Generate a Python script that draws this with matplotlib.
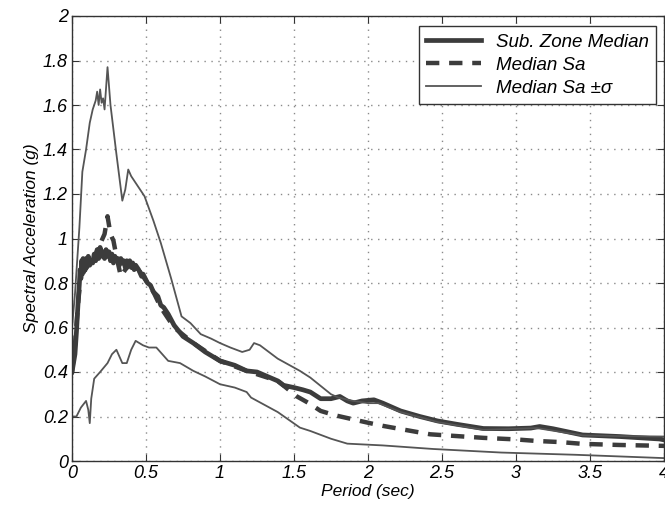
import matplotlib.pyplot as plt
import numpy as np

# period (s) / spectral acceleration (g)
t_sub = [0.0, 0.02, 0.03, 0.04, 0.05, 0.055, 0.06, 0.065, 0.07, 0.075, 0.08, 0.085, 0.09, 0.095,
         0.10, 0.11, 0.12, 0.13, 0.14, 0.15, 0.16, 0.17, 0.18, 0.19, 0.20, 0.21, 0.22, 0.23, 0.24,
         0.25, 0.26, 0.27, 0.28, 0.29, 0.30, 0.31, 0.32, 0.33, 0.34, 0.35, 0.36, 0.37, 0.38, 0.39,
         0.40, 0.41, 0.42, 0.43, 0.45, 0.47, 0.48, 0.51, 0.53, 0.55, 0.58, 0.60, 0.62, 0.65,
         0.69, 0.75, 0.82, 0.90, 1.0, 1.1, 1.18, 1.25, 1.32, 1.39, 1.43, 1.50, 1.56, 1.61, 1.68,
         1.75, 1.81, 1.86, 1.90, 1.96, 2.04, 2.10, 2.22, 2.35, 2.47, 2.60, 2.78, 2.95, 3.10, 3.16,
         3.25, 3.45, 3.70, 3.97, 4.0]
sa_sub = [0.40, 0.48, 0.58, 0.70, 0.80, 0.86, 0.82, 0.90, 0.84, 0.91, 0.85, 0.90, 0.86, 0.91,
          0.87, 0.92, 0.88, 0.90, 0.89, 0.93, 0.90, 0.95, 0.91, 0.96, 0.92, 0.94, 0.91, 0.95, 0.92,
          0.94, 0.90, 0.93, 0.89, 0.92, 0.90, 0.91, 0.88, 0.91, 0.89, 0.90, 0.87, 0.90, 0.88, 0.90,
          0.87, 0.89, 0.86, 0.88, 0.86, 0.83, 0.84, 0.80, 0.79, 0.76, 0.74, 0.70, 0.69, 0.66,
          0.61, 0.56, 0.53, 0.49, 0.45, 0.43, 0.405, 0.40, 0.38, 0.36, 0.34, 0.33, 0.32, 0.31, 0.28,
          0.28, 0.29, 0.27, 0.26, 0.27, 0.275, 0.26, 0.225, 0.20, 0.18, 0.165, 0.146, 0.145, 0.148, 0.155,
          0.145, 0.117, 0.11, 0.099, 0.095]

t_med = [0.0, 0.02, 0.04, 0.06, 0.08, 0.10, 0.14, 0.18, 0.20, 0.22, 0.24, 0.26, 0.28, 0.30, 0.33,
         0.36, 0.40, 0.42, 0.45, 0.50, 0.55, 0.60, 0.69, 0.82, 1.0, 1.18, 1.39, 1.52, 1.60, 1.68,
         1.78, 1.88, 2.0, 2.1, 2.25, 2.42, 2.6, 2.78, 3.0, 3.14, 3.3, 3.45, 3.7, 4.0]
sa_med = [0.40, 0.52, 0.70, 0.84, 0.87, 0.88, 0.90, 0.96, 0.99, 1.02, 1.10, 1.02, 0.99, 0.92, 0.83,
          0.86, 0.89, 0.88, 0.86, 0.81, 0.76, 0.69, 0.60, 0.53, 0.45, 0.405, 0.36, 0.29, 0.26, 0.225,
          0.205, 0.19, 0.172, 0.158, 0.14, 0.12, 0.112, 0.104, 0.097, 0.09, 0.085, 0.077, 0.072, 0.068]

t_up = [0.0, 0.02, 0.05, 0.07, 0.095, 0.12, 0.14, 0.16, 0.17, 0.18, 0.19, 0.20, 0.21, 0.22, 0.24,
        0.26, 0.30, 0.34, 0.36, 0.38, 0.40, 0.44, 0.49, 0.55, 0.60, 0.67, 0.74, 0.80, 0.87, 0.94,
        1.0, 1.07, 1.15, 1.20, 1.23, 1.27, 1.33, 1.39, 1.54, 1.61, 1.75, 1.80, 1.90, 2.0, 2.07,
        2.22, 2.47, 2.78, 3.14, 3.45, 3.7, 4.0]
sa_up = [0.60, 0.75, 1.05, 1.30, 1.40, 1.52, 1.58, 1.62, 1.66, 1.60, 1.67, 1.61, 1.63, 1.58, 1.77,
         1.60, 1.38, 1.17, 1.22, 1.31, 1.28, 1.24, 1.19, 1.08, 0.98, 0.82, 0.65, 0.62, 0.57, 0.55,
         0.53, 0.51, 0.49, 0.50, 0.53, 0.52, 0.49, 0.46, 0.405, 0.375, 0.30, 0.285, 0.27, 0.26, 0.26,
         0.22, 0.175, 0.14, 0.148, 0.115, 0.112, 0.11]

t_lo = [0.0, 0.03, 0.06, 0.095, 0.11, 0.12, 0.13, 0.15, 0.19, 0.24, 0.27, 0.30, 0.34, 0.37, 0.40,
        0.43, 0.48, 0.52, 0.57, 0.65, 0.73, 0.82, 0.90, 1.0, 1.1, 1.18, 1.21, 1.39, 1.54, 1.61,
        1.75, 1.86, 2.1, 2.44, 2.9, 3.4, 4.0]
sa_lo = [0.20, 0.20, 0.24, 0.27, 0.23, 0.17, 0.28, 0.37, 0.40, 0.44, 0.48, 0.50, 0.44, 0.44, 0.50,
         0.54, 0.52, 0.51, 0.51, 0.45, 0.44, 0.405, 0.38, 0.345, 0.33, 0.31, 0.285, 0.22, 0.15, 0.135,
         0.10, 0.078, 0.07, 0.054, 0.038, 0.028, 0.013]

plt.rcParams['font.family'] = ['Liberation Sans', 'DejaVu Sans']
plt.rcParams['font.style'] = 'italic'

fig = plt.figure(figsize=(6.65, 5.12), dpi=100)
ax = fig.add_axes([72/665, 51/512, 592/665, 445/512])

col = '#3c3c3c'
ax.plot(t_sub, sa_sub, '-', color=col, lw=3.4, label='Sub. Zone Median')
ax.plot(t_med, sa_med, '--', color=col, lw=3.2, dashes=(3, 2.2), label='Median Sa')
ax.plot(t_up, sa_up, '-', color='#555555', lw=1.3, label='Median Sa \u00b1\u03c3')
ax.plot(t_lo, sa_lo, '-', color='#555555', lw=1.3)

ax.set_xlim(0, 4)
ax.set_ylim(0, 2)
ax.set_xticks(np.arange(0, 4.01, 0.5))
ax.set_yticks(np.arange(0, 2.01, 0.2))
ax.set_xticklabels(['0', '0.5', '1', '1.5', '2', '2.5', '3', '3.5', '4'])
ax.set_yticklabels(['0', '0.2', '0.4', '0.6', '0.8', '1', '1.2', '1.4', '1.6', '1.8', '2'])
ax.tick_params(direction='in', top=True, right=True, labelsize=13, length=5, color='#333333', pad=3)
ax.grid(True, linestyle=(0, (1, 4)), color='#8a8a8a', lw=1.0)
for s in ax.spines.values():
    s.set_color('#333333')
    s.set_linewidth(1.0)

ax.set_xlabel('Period (sec)', fontsize=12.5, labelpad=1)
ax.set_ylabel('Spectral Acceleration (g)', fontsize=12.5, labelpad=3)

leg = ax.legend(loc='upper right', fontsize=13.5, fancybox=False, framealpha=1,
                edgecolor='#333333', handlelength=2.9, borderpad=0.4, labelspacing=0.32,
                borderaxespad=0, bbox_to_anchor=(0.9865, 0.9775))
leg.get_frame().set_linewidth(1.0)

fig.savefig('out.png', dpi=100)
